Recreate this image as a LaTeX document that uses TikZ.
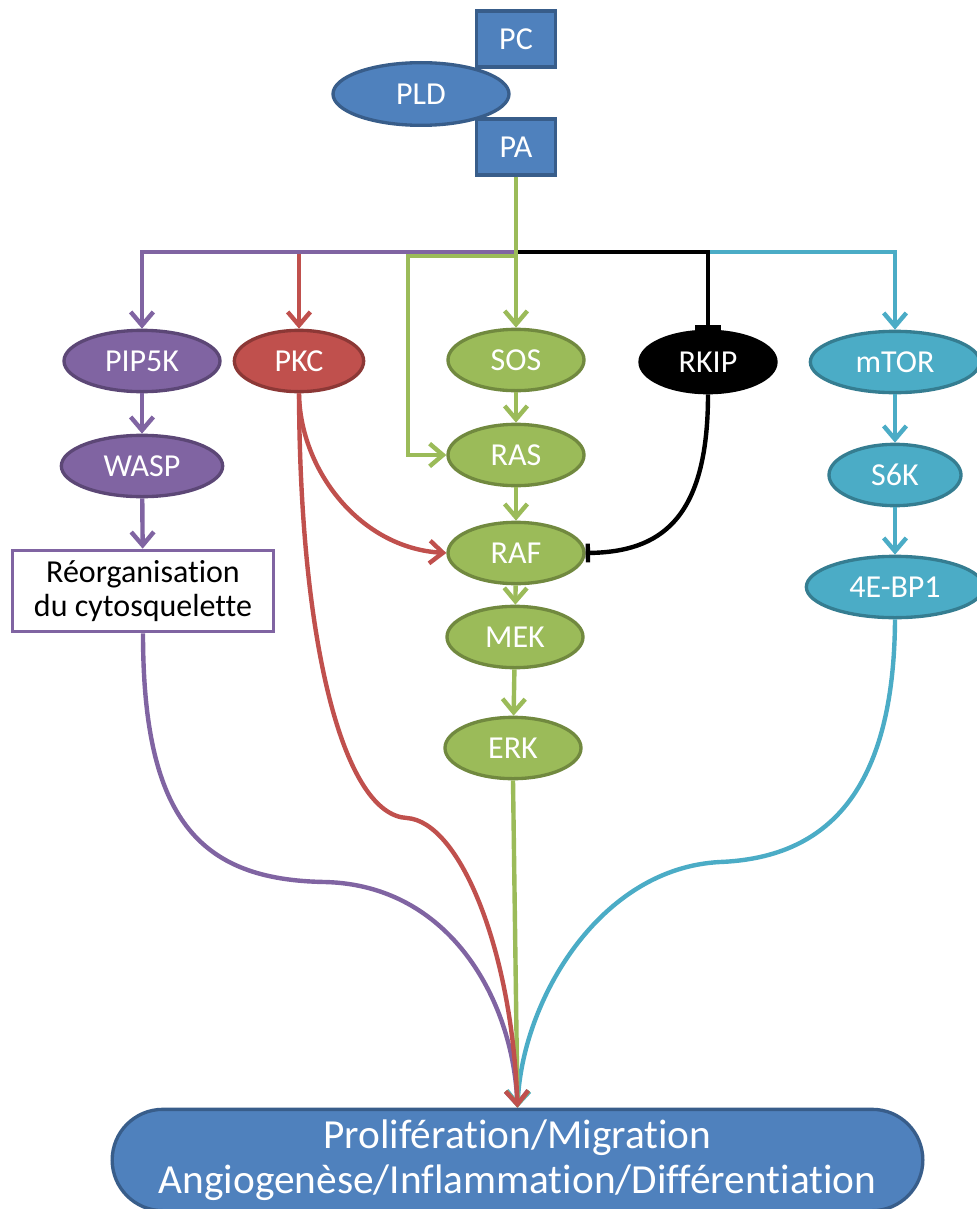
\documentclass[tikz,border=0pt]{standalone}
\usepackage{fontspec}
\setmainfont{Carlito}[Ligatures=NoCommon]
\usetikzlibrary{arrows.meta,shapes.geometric}
\definecolor{bleu}{HTML}{4F81BD}
\definecolor{bleufonce}{HTML}{385D8A}
\definecolor{mauve}{HTML}{8064A2}
\definecolor{mauvefonce}{HTML}{5C4776}
\definecolor{rouge}{HTML}{C0504D}
\definecolor{rougefonce}{HTML}{8C3836}
\definecolor{vert}{HTML}{9BBB59}
\definecolor{vertfonce}{HTML}{71893F}
\definecolor{turquoise}{HTML}{4BACC6}
\definecolor{turquoisefonce}{HTML}{357D91}
\tikzset{
  prot/.style={ellipse,draw,line width=2.5pt,text=white,inner sep=0pt,
    minimum width=102pt,minimum height=46pt,font=\fontsize{24}{26}\selectfont},
  boite/.style={rectangle,draw,line width=2.5pt,inner sep=0pt,font=\fontsize{24}{26}\selectfont},
  fleche/.style={line width=3.3pt,-{Straight Barb[length=10pt,width=17pt]}},
  inhib/.style={line width=3.3pt,-{Bar[width=19pt]}}
}
\begin{document}
\begin{tikzpicture}[x=0.75pt,y=-0.75pt]
            \useasboundingbox (0,0) rectangle (977,1209);
            \clip (0,0) rectangle (977,1209);
            % PLD
            \node[boite,fill=bleu,draw=bleufonce,text=white,minimum width=59pt,minimum height=42pt] (pc) at (516,39) {PC};
            \node[boite,fill=bleu,draw=bleufonce,text=white,minimum width=59pt,minimum height=42pt] (pa) at (516,147) {PA};
            \node[prot,fill=bleu,draw=bleufonce,minimum width=132pt,minimum height=47pt] (pld) at (421,94) {PLD};
            % cibles
            \node[prot,fill=mauve,draw=mauvefonce,minimum width=117pt] (pip) at (142,361) {PIP5K};
            \node[prot,fill=rouge,draw=rougefonce,minimum width=97pt] (pkc) at (299,361) {PKC};
            \node[prot,fill=vert,draw=vertfonce] (sos) at (516,360) {SOS};
            \node[prot,fill=black,draw=black] (rkip) at (708,362) {RKIP};
            \node[prot,fill=turquoise,draw=turquoisefonce,minimum width=127pt] (mtor) at (895,362) {mTOR};
            \node[prot,fill=mauve,draw=mauvefonce,minimum width=121pt] (wasp) at (142,466) {WASP};
            \node[prot,fill=vert,draw=vertfonce] (ras) at (516,455) {RAS};
            \node[prot,fill=turquoise,draw=turquoisefonce,minimum width=99pt] (s6k) at (895,475) {S6K};
            \node[prot,fill=vert,draw=vertfonce] (raf) at (516,553) {RAF};
            \node[prot,fill=turquoise,draw=turquoisefonce,minimum width=133pt] (ebp) at (895,587) {4E-BP1};
            \node[prot,fill=vert,draw=vertfonce] (mek) at (515,637) {MEK};
            \node[prot,fill=vert,draw=vertfonce] (erk) at (513,748) {ERK};
            \node[boite,fill=white,draw=mauve,align=center,minimum width=196pt,minimum height=61pt] (reorg) at (143,591) {Réorganisation\\du cytosquelette};
            \node[boite,fill=bleu,draw=bleufonce,text=white,rounded corners=38pt,align=center,
              minimum width=608pt,minimum height=76pt,font=\fontsize{31}{34}\selectfont] (effet) at (517.5,1160)
              {Prolifération/Migration\\Angiogenèse/Inflammation/Différentiation};
            % depuis PA
            \coordinate (fourche) at (516,252);
            \draw[fleche,rouge] (fourche) -| (pkc.north);
            \draw[fleche,turquoise] (fourche) -| (mtor.north);
            \draw[inhib] (fourche) -| (rkip.north);
            \draw[fleche,mauve] (fourche) -| (pip.north);
            \draw[fleche,vert] (pa.south) |- (408,256) |- (ras.west);
            \draw[fleche,vert] (pa.south) -- (sos.north);
            % cascades
            \draw[fleche,mauve] (pip) -- (wasp);
            \draw[fleche,mauve] (wasp) -- (reorg);
            \draw[fleche,vert] (sos) -- (ras);
            \draw[fleche,vert] (ras) -- (raf);
            \draw[fleche,vert] (raf) -- (mek);
            \draw[fleche,vert] (mek) -- (erk);
            \draw[fleche,turquoise] (mtor) -- (s6k);
            \draw[fleche,turquoise] (s6k) -- (ebp);
            \draw[fleche,rouge] (pkc.south) .. controls (300,470) and (360,548) .. (raf.west);
            \draw[line width=3.3pt,-{Bar[width=14pt]}] (rkip.south) .. controls (708,520) and (660,552) .. (raf.east);
            % vers les effets
            \draw[fleche,mauve] (reorg.south) .. controls (143,820) and (200,880) .. (325,882)
              .. controls (450,885) and (513,1000) .. (effet.north);
            \draw[fleche,turquoise] (ebp.south) .. controls (894,800) and (820,858) .. (720,862)
              .. controls (600,868) and (522,1000) .. (effet.north);
            \draw[fleche,vert] (erk.south) -- (effet.north);
            \draw[fleche,rouge] (pkc.south) .. controls (300,650) and (345,815) .. (407,818)
              .. controls (460,822) and (512,950) .. (effet.north);
        \end{tikzpicture}
\end{document}
